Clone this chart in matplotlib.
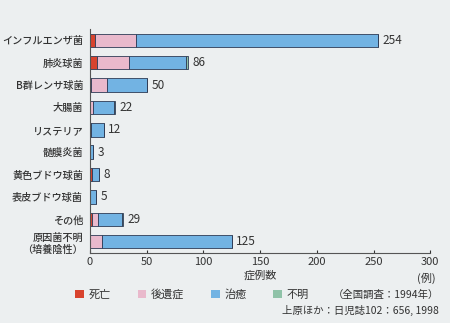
import matplotlib
matplotlib.use("Agg")
import matplotlib.pyplot as plt
from matplotlib.patches import Patch
import numpy as np

plt.rcParams["font.family"] = ["Noto Sans CJK JP", "DejaVu Sans"]

categories = ["インフルエンザ菌", "肺炎球菌", "B群レンサ球菌", "大腸菌", "リステリア",
              "髄膜炎菌", "黄色ブドウ球菌", "表皮ブドウ球菌", "その他", "原因菌不明\n（培養陰性）"]
deaths = [4, 6, 1, 0, 1, 0, 2, 0, 2, 0]
sequelae = [37, 28, 14, 3, 0, 0, 0, 0, 5, 11]
cured = [213, 51, 35, 18, 11, 3, 6, 5, 21, 114]
unknown = [0, 1, 0, 1, 0, 0, 0, 0, 1, 0]
totals = [254, 86, 50, 22, 12, 3, 8, 5, 29, 125]

series = [("死亡", deaths, "#d8432e"), ("後遺症", sequelae, "#e9b9cc"),
          ("治癒", cured, "#72b3e3"), ("不明", unknown, "#8fc2a8")]

bg = "#eceff0"
txt = "#333333"
edge = "#2e3b55"

fig = plt.figure(figsize=(4.5, 3.23), dpi=100, facecolor=bg)
ax = fig.add_axes([0.2, 0.217, 0.756, 0.693], facecolor=bg)

y = np.arange(len(categories))
left = np.zeros(len(categories))
for name, vals, color in series:
    vals = np.array(vals, dtype=float)
    ax.barh(y, vals, left=left, height=0.6, color=color, edgecolor=edge, linewidth=0.6)
    left += vals

for yi, t in zip(y, totals):
    ax.text(t + 4, yi, str(t), va="center", ha="left", fontsize=8.5, color=txt)

ax.set_yticks(y)
ax.set_yticklabels(categories, fontsize=7.3, color=txt, fontweight="medium", linespacing=1.3)
ax.set_ylim(len(categories) - 0.5, -0.5)
ax.set_xlim(0, 300)
ax.set_xticks(np.arange(0, 301, 50))
ax.tick_params(axis="x", direction="in", length=2, labelsize=8, colors=txt, pad=3)
ax.tick_params(axis="y", length=0, pad=5)
for s in ["top", "right"]:
    ax.spines[s].set_visible(False)
for s in ["left", "bottom"]:
    ax.spines[s].set_color("#555555")
    ax.spines[s].set_linewidth(0.8)
ax.set_xlabel("症例数", fontsize=8, color=txt, labelpad=2)
fig.text(0.967, 0.137, "(例)", fontsize=8, color=txt, ha="right", va="center")

handles = [Patch(facecolor=c, edgecolor="none", label=n) for n, _, c in series]
fig.legend(handles=handles, loc="center left", bbox_to_anchor=(0.145, 0.088), ncol=4,
           frameon=False, fontsize=8, handlelength=0.8, handleheight=0.8,
           handletextpad=0.4, columnspacing=2.4, labelcolor=txt)
fig.text(0.975, 0.088, "（全国調査：1994年）", fontsize=7.5, color=txt, ha="right", va="center")
fig.text(0.975, 0.038, "上原ほか：日児誌102：656, 1998", fontsize=7.5, color=txt, ha="right", va="center")

fig.savefig("out.png", dpi=100, facecolor=bg)
